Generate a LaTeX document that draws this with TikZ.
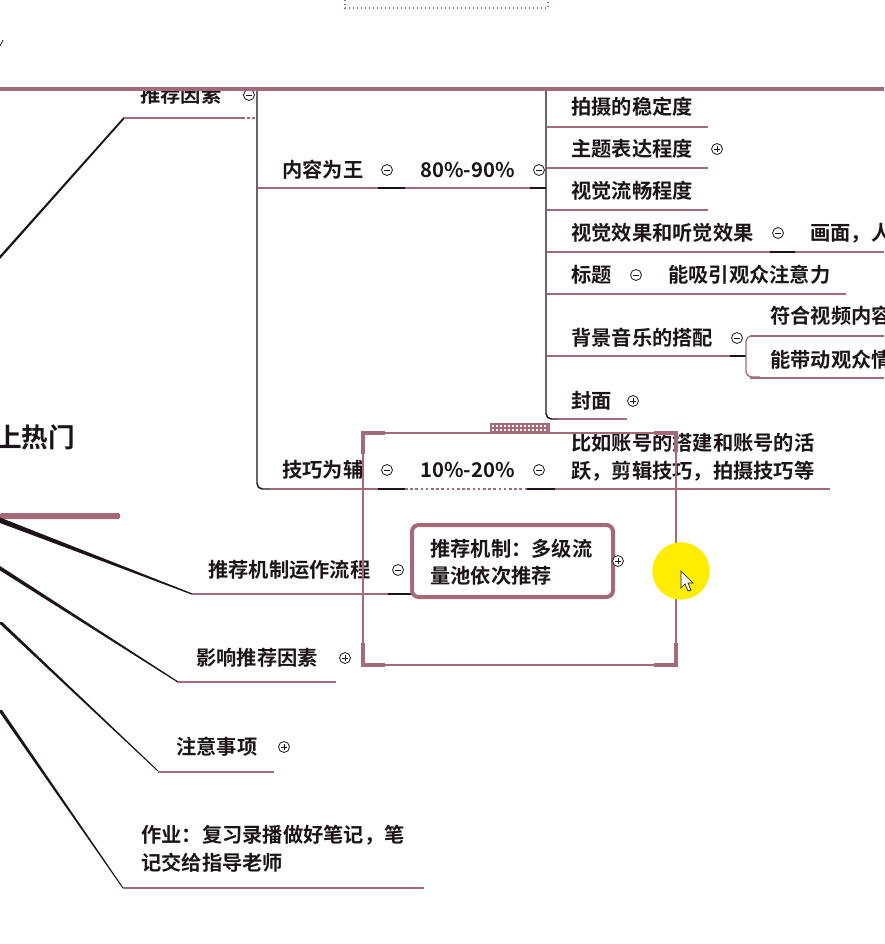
\documentclass[tikz,border=0pt]{standalone}
\usepackage{fontspec}
\setmainfont{Noto Sans CJK SC}[BoldFont={Noto Sans CJK SC Bold}]
\definecolor{mauve}{RGB}{165,106,120}
\definecolor{ink}{RGB}{28,20,26}
\definecolor{pinkdot}{RGB}{176,92,120}
\tikzset{
  foldm/.pic={\draw[ink,line width=0.6pt,fill=white] (0,0) circle (4.1pt); \draw[ink,line width=0.6pt] (-2.2pt,0)--(2.2pt,0);},
  foldp/.pic={\draw[ink,line width=0.6pt,fill=white] (0,0) circle (4.1pt); \draw[ink,line width=0.6pt] (-2.2pt,0)--(2.2pt,0) (0,-2.2pt)--(0,2.2pt);}
}
\begin{document}
\begin{tikzpicture}[x=0.75pt,y=-0.75pt,
  every node/.style={font=\fontsize{15.2}{20}\selectfont\bfseries,text=ink,inner sep=0pt,anchor=west,align=left},
  uline/.style={mauve,line width=1.9pt},
  stem/.style={ink,line width=1.1pt},
  link/.style={ink,line width=1.1pt},
  branch/.style={fill=ink}]
\useasboundingbox (0,0) rectangle (884,944);
% first level
\node (tuijian) at (140,95) {推荐因素};
\node (root) at (-5,437) {\fontsize{20}{24}\selectfont 上热门};
\fill[mauve,rounded corners=1pt] (0,513) rectangle (120,519);
% branches from the root
\fill[branch] (0,255.5) -- (123.4,117.3) -- (124.6,118.7) -- (0,259) -- cycle;
\fill[branch] (0,517.5) -- (192,593.3) -- (192,594.7) -- (0,523) -- cycle;
\fill[branch] (0,566) -- (178,681.3) -- (178,682.7) -- (0,570.5) -- cycle;
\fill[branch] (-2.2,622) -- (157.3,771) -- (158.7,771) -- (2.2,622) -- cycle;
\fill[branch] (-2,710) -- (122.4,888) -- (123.6,888) -- (2,710) -- cycle;
\draw[uline] (124,118) -- (242,118);
\draw[uline,dotted] (242,118) -- (256,118);
\pic at (249,95) {foldm};
% content vs. skills
\draw[stem,rounded corners=4] (257,89) -- (257,489) -- (272,489);
\node (neirong) at (282,170) {内容为王};
\node (pct80) at (420,170) {80\%-90\%};
\draw[uline] (258,188) -- (378,188);
\draw[link] (378,188) -- (405,188);
\draw[uline] (405,188) -- (530,188);
\draw[link] (530,188) -- (546,188);
\pic at (387,170) {foldm};
\pic at (539,170) {foldm};
\node (jiqiao) at (282,470) {技巧为辅};
\node (pct10) at (420,470) {10\%-20\%};
\node (zhanghao) at (571,457) {比如账号的搭建和账号的活\\[0.75pt]跃，剪辑技巧，拍摄技巧等};
\draw[uline] (270,489) -- (378,489);
\draw[link] (378,489) -- (405,489);
\draw[uline,dotted] (405,489) -- (527,489);
\draw[link] (527,489) -- (555,489);
\draw[uline] (555,489) -- (830,489);
\pic at (387,470) {foldm};
\pic at (539,470) {foldm};
% content factors
\draw[stem,rounded corners=4] (546,89) -- (546,419) -- (560,419);
\node (wending) at (571,107) {拍摄的稳定度};
\draw[uline] (547,127) -- (708,127);
\node (zhuti) at (571,149) {主题表达程度};
\draw[uline] (547,168) -- (708,168);
\pic at (717,149) {foldp};
\node (liuchang) at (571,191) {视觉流畅程度};
\draw[uline] (547,210) -- (708,210);
\node (shiting) at (571,233) {视觉效果和听觉效果};
\node (huamian) at (810,233) {画面，人};
\draw[uline] (547,252) -- (770,252);
\draw[link] (770,252) -- (795,252);
\draw[uline] (795,252) -- (884,252);
\pic at (778,233) {foldm};
\node (biaoti) at (571,275) {标题};
\node (xiyin) at (668,275) {能吸引观众注意力};
\draw[uline] (547,294) -- (846,294);
\pic at (636,275) {foldm};
\node (yinyue) at (571,338) {背景音乐的搭配};
\draw[uline] (547,356) -- (730,356);
\draw[link] (730,356) -- (746,356);
\pic at (737,338) {foldm};
\draw[mauve,line width=1pt,rounded corners=4] (760,336) -- (746,336) -- (746,377) -- (760,377);
\node (fuhe) at (770,316) {符合视频内容};
\draw[uline] (750,336) -- (884,336);
\node (daidong) at (770,360) {能带动观众情};
\draw[uline] (750,378) -- (884,378);
\node (fengmian) at (571,401) {封面};
\draw[uline] (558,419) -- (627,419);
\pic at (633,401) {foldp};
% recommendation flow
\node (liucheng) at (208,570) {推荐机制运作流程};
\draw[uline] (192,594) -- (388,594);
\draw[link] (388,594) -- (412,594);
\pic at (398,570) {foldm};
\draw[mauve,line width=3pt,rounded corners=5] (412,525) rectangle (613,597);
\node (liuliang) at (430,562) {\fontsize{15.2}{19.5}\selectfont 推荐机制：多级流\\量池依次推荐};
\pic at (618,561) {foldp};
\node (yingxiang) at (196,658) {影响推荐因素};
\draw[uline] (178,682) -- (336,682);
\pic at (345,658) {foldp};
\node (zhuyi) at (176,747) {注意事项};
\draw[uline] (158,772) -- (274,772);
\pic at (284,747) {foldp};
\node (zuoye) at (141,849) {作业：复习录播做好笔记，笔\\[0.75pt]记交给指导老师};
\draw[uline] (123,888) -- (424,888);
% screen overlay at the top
\fill[white] (0,0) rectangle (884,88);
\draw[ink,line width=0.6pt] (0,46) -- (3,40);
\draw[pinkdot,line width=1pt,dotted] (345,0) -- (345,8) -- (548,8) -- (548,0);
\draw[mauve,line width=2.3pt] (0,89) -- (884,89);
% selection frame
\draw[mauve,line width=1pt] (363,433) rectangle (676,665);
\draw[mauve,line width=3.5pt] (363,454) -- (363,433) -- (385,433)
  (654,433) -- (676,433) -- (676,452)
  (363,643) -- (363,665) -- (385,665)
  (654,665) -- (676,665) -- (676,643);
\fill[mauve] (490,423) rectangle (550,433);
\draw[white,line width=0.8pt,dash pattern=on 1.2pt off 1.8pt] (492,426) -- (548,426) (492,430) -- (548,430);
% pointer
\fill[yellow!95!orange] (681,571) circle (21.5pt);
\draw[ink,fill=white,line width=0.5pt] (681,571) -- (681,588) -- (685,584) -- (688,591) -- (691,590) -- (688,583) -- (693,583) -- cycle;
\end{tikzpicture}
\end{document}
